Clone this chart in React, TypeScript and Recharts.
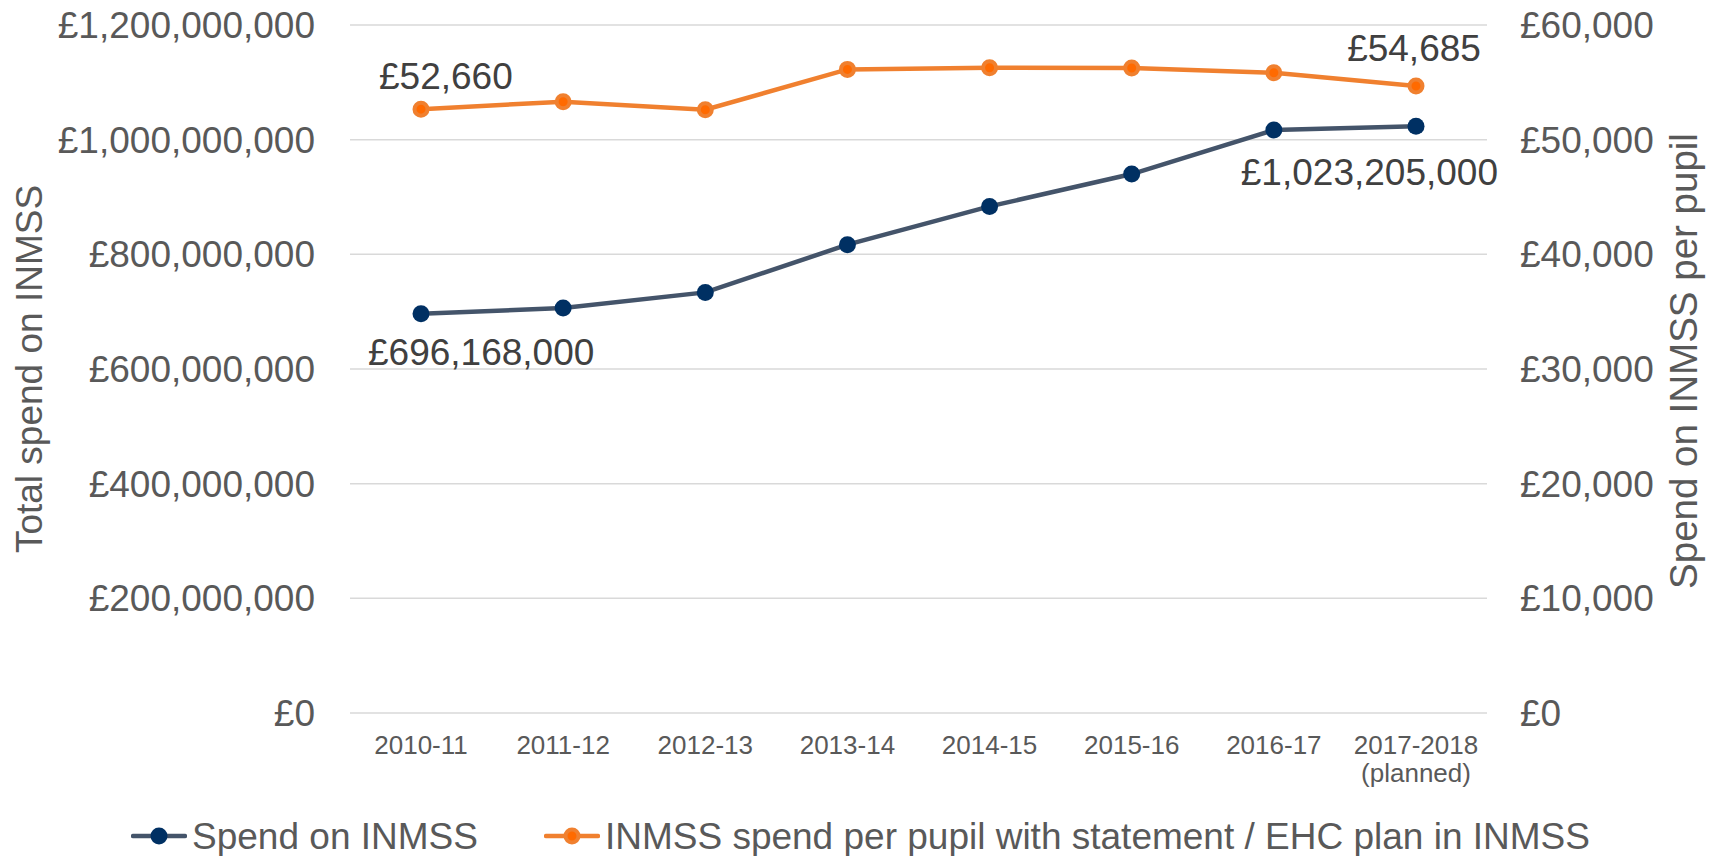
import React from 'react';
import { LineChart, Line, XAxis, YAxis, CartesianGrid, Legend, LabelList } from 'recharts';

const categories = ['2010-11', '2011-12', '2012-13', '2013-14', '2014-15', '2015-16', '2016-17', '2017-2018\n(planned)'];
const totalSpend = [696168000, 706400000, 733600000, 816800000, 883600000, 940000000, 1016900000, 1023205000];
const perPupilSpend = [52660, 53310, 52610, 56130, 56270, 56250, 55840, 54685];
const leftTicks = [0, 200000000, 400000000, 600000000, 800000000, 1000000000, 1200000000];
const rightTicks = [0, 10000, 20000, 30000, 40000, 50000, 60000];

const seriesNames = ['Spend on INMSS', 'INMSS spend per pupil with statement / EHC plan in INMSS'];

const data = categories.map((c, i) => ({ year: c, total: totalSpend[i], perPupil: perPupilSpend[i] }));

const FONT = '"Liberation Sans", Arial, sans-serif';
const TICK_COLOR = '#595959';
const LABEL_COLOR = '#404040';
const NAVY_LINE = '#44546A';
const NAVY_DOT = '#003063';
const ORANGE_LINE = '#F0802F';
const ORANGE_DOT = '#FF6A00';

const fmt = (v: number) => '£' + Number(v).toLocaleString('en-GB');

const XTick = (props: any) => {
  const { x, y, payload } = props;
  const lines = String(payload.value).split('\n');
  return (
    <text x={x} y={y} textAnchor="middle" fill={TICK_COLOR} fontSize={26} fontFamily={FONT}>
      {lines.map((l, i) => (
        <tspan key={i} x={x} dy={i === 0 ? 41 : 27.5}>{l}</tspan>
      ))}
    </text>
  );
};

const navyLabel = (props: any) => {
  const { x, y, value, index } = props;
  if (index === 0) {
    return <text x={x - 53} y={y + 51} textAnchor="start" fill={LABEL_COLOR} fontSize={37} fontFamily={FONT}>{fmt(value)}</text>;
  }
  if (index === categories.length - 1) {
    return <text x={x + 82} y={y + 59} textAnchor="end" fill={LABEL_COLOR} fontSize={37} fontFamily={FONT}>{fmt(value)}</text>;
  }
  return null;
};

const orangeLabel = (props: any) => {
  const { x, y, value, index } = props;
  if (index === 0) {
    return <text x={x - 42} y={y - 20} textAnchor="start" fill={LABEL_COLOR} fontSize={37} fontFamily={FONT}>{fmt(value)}</text>;
  }
  if (index === categories.length - 1) {
    return <text x={x - 2} y={y - 25} textAnchor="middle" fill={LABEL_COLOR} fontSize={37} fontFamily={FONT}>{fmt(value)}</text>;
  }
  return null;
};

const rightTitle = (props: any) => {
  const vb = props.viewBox || {};
  const cx = vb.x + vb.width - 38;
  const cy = vb.y + vb.height / 2 - 8;
  return (
    <text
      x={cx}
      y={cy}
      transform={`rotate(-90, ${cx}, ${cy})`}
      textAnchor="middle"
      dy="0.355em"
      fill={TICK_COLOR}
      fontSize={38.5}
      fontFamily={FONT}
    >
      Spend on INMSS per pupil
    </text>
  );
};

const legendStyles: Record<string, { line: string; dot: string; ring?: string }> = {
  [seriesNames[0]]: { line: NAVY_LINE, dot: NAVY_DOT },
  [seriesNames[1]]: { line: ORANGE_LINE, dot: ORANGE_DOT, ring: ORANGE_LINE },
};

const renderLegend = (props: any) => {
  const payload = [...(props.payload || [])].sort(
    (a: any, b: any) => seriesNames.indexOf(a.value) - seriesNames.indexOf(b.value)
  );
  return (
    <div
      style={{
        height: 50,
        boxSizing: 'border-box',
        paddingTop: 10,
        display: 'flex',
        justifyContent: 'center',
        alignItems: 'center',
        fontFamily: FONT,
        fontSize: 37,
        color: TICK_COLOR,
      }}
    >
      {payload.map((entry: any, i: number) => {
        const s = legendStyles[entry.value] || { line: entry.color, dot: entry.color };
        return (
          <div key={i} style={{ display: 'flex', alignItems: 'center', marginLeft: i ? 66 : 0 }}>
            <svg width={56} height={20} style={{ display: 'block' }}>
              <line x1={2} y1={10} x2={54} y2={10} stroke={s.line} strokeWidth={4.5} strokeLinecap="round" />
              {s.ring ? (
                <circle cx={28} cy={10} r={6.5} fill={s.dot} stroke={s.ring} strokeWidth={4} />
              ) : (
                <circle cx={28} cy={10} r={8.5} fill={s.dot} />
              )}
            </svg>
            <span style={{ marginLeft: 5, lineHeight: '37px', whiteSpace: 'nowrap' }}>{entry.value}</span>
          </div>
        );
      })}
    </div>
  );
};

export default function App() {
  return (
    <div style={{ position: 'absolute', left: 0, top: 0, width: 1721, height: 856, background: '#fff' }}>
      <LineChart
        width={1721}
        height={856}
        data={data}
        margin={{ top: 25, right: 0, bottom: 0, left: 0 }}
        style={{ fontFamily: FONT }}
      >
        <CartesianGrid yAxisId="left" vertical={false} stroke="#D9D9D9" strokeWidth={1.5} />
        <XAxis
          dataKey="year"
          height={93}
          padding={{ left: 71, right: 71 }}
          axisLine={false}
          tickLine={false}
          tickSize={0}
          tickMargin={0}
          interval={0}
          tick={<XTick />}
        />
        <YAxis
          yAxisId="left"
          orientation="left"
          width={350}
          domain={[0, 1200000000]}
          ticks={leftTicks}
          tickFormatter={fmt}
          axisLine={false}
          tickLine={false}
          tickSize={0}
          tickMargin={35}
          tick={{ fill: TICK_COLOR, fontSize: 37, fontFamily: FONT }}
          label={{
            value: 'Total spend on INMSS',
            angle: -90,
            position: 'insideLeft',
            offset: 29,
            style: { textAnchor: 'middle', fill: TICK_COLOR, fontSize: 37, fontFamily: FONT },
          }}
        />
        <YAxis
          yAxisId="right"
          orientation="right"
          width={234}
          domain={[0, 60000]}
          ticks={rightTicks}
          tickFormatter={fmt}
          axisLine={false}
          tickLine={false}
          tickSize={0}
          tickMargin={33}
          tick={{ fill: TICK_COLOR, fontSize: 37, fontFamily: FONT, textAnchor: 'start' }}
          label={{ content: rightTitle }}
        />
        <Legend
          verticalAlign="bottom"
          align="center"
          content={renderLegend}
          wrapperStyle={{ left: 0, bottom: 0, width: 1721, height: 50 }}
        />
        <Line
          yAxisId="left"
          type="linear"
          dataKey="total"
          name={seriesNames[0]}
          stroke={NAVY_LINE}
          strokeWidth={4.5}
          dot={{ r: 8.5, fill: NAVY_DOT, stroke: NAVY_DOT, strokeWidth: 0 }}
          activeDot={false}
          isAnimationActive={false}
        >
          <LabelList dataKey="total" content={navyLabel} />
        </Line>
        <Line
          yAxisId="right"
          type="linear"
          dataKey="perPupil"
          name={seriesNames[1]}
          stroke={ORANGE_LINE}
          strokeWidth={4.5}
          dot={{ r: 6.5, fill: ORANGE_DOT, stroke: ORANGE_LINE, strokeWidth: 4 }}
          activeDot={false}
          isAnimationActive={false}
        >
          <LabelList dataKey="perPupil" content={orangeLabel} />
        </Line>
      </LineChart>
    </div>
  );
}
